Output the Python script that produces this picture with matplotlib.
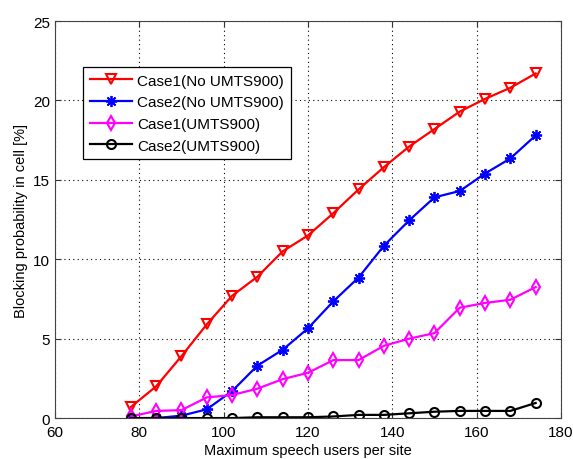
import matplotlib
matplotlib.use("Agg")
import matplotlib.pyplot as plt

# 每站最大语音用户数
users = [78, 84, 90, 96, 102, 108, 114, 120, 126, 132, 138, 144, 150, 156, 162, 168, 174]

case1_no900 = [0.7, 2.0, 3.9, 5.9, 7.7, 8.9, 10.5, 11.5, 12.9, 14.4, 15.8, 17.1, 18.2, 19.3, 20.1, 20.8, 21.7]
case2_no900 = [0.0, 0.0, 0.15, 0.55, 1.7, 3.3, 4.3, 5.65, 7.35, 8.85, 10.85, 12.45, 13.9, 14.3, 15.4, 16.35, 17.8]
case1_900 = [0.1, 0.45, 0.5, 1.3, 1.45, 1.85, 2.45, 2.85, 3.65, 3.65, 4.55, 5.0, 5.35, 6.95, 7.25, 7.45, 8.25]
case2_900 = [0.0, 0.0, 0.0, 0.0, 0.0, 0.05, 0.05, 0.05, 0.1, 0.2, 0.2, 0.3, 0.4, 0.45, 0.45, 0.45, 0.95]

labels = ["Case1(No UMTS900)", "Case2(No UMTS900)", "Case1(UMTS900)", "Case2(UMTS900)"]

plt.rcParams["font.family"] = ["Liberation Sans", "DejaVu Sans"]

fig = plt.figure(figsize=(5.73, 4.6), dpi=100)
ax = fig.add_axes([0.096, 0.089, 0.883, 0.863])

ax.plot(users, case1_no900, color="red", lw=1.6, marker="v", ms=7.5,
        mfc="none", mew=1.5, label=labels[0])
# 8 辐条星号，类似 MATLAB 的 '*'
ax.plot(users, case2_no900, color="blue", lw=1.6, marker=(8, 2, 0), ms=8,
        mew=1.3, label=labels[1])
ax.plot(users, case1_900, color="magenta", lw=1.6, marker="d", ms=7,
        mfc="none", mew=1.5, label=labels[2])
ax.plot(users, case2_900, color="black", lw=1.6, marker="o", ms=6.5,
        mfc="none", mew=1.5, label=labels[3])

ax.set_xlim(60, 180)
ax.set_ylim(0, 25)
ax.set_xticks(range(60, 181, 20))
ax.set_yticks(range(0, 26, 5))
ax.grid(True, color="black", linestyle=(0, (1, 3)), linewidth=0.8)
ax.tick_params(direction="in", top=True, right=True, labelsize=11, length=4,
               colors="#333333")
ax.tick_params(axis="x", pad=5)
for tl in ax.get_xticklabels() + ax.get_yticklabels():
    tl.set_color("black")
for s in ax.spines.values():
    s.set_color("#444444")

ax.set_xlabel("Maximum speech users per site", fontsize=10.5, labelpad=3)
ax.set_ylabel("Blocking probability in cell [%]", fontsize=10.5, labelpad=4)

leg = ax.legend(loc="upper left", bbox_to_anchor=(0.055, 0.885), fontsize=11,
                fancybox=False, framealpha=1, edgecolor="black",
                handlelength=2.8, borderpad=0.45, labelspacing=0.5,
                handletextpad=0.3, borderaxespad=0)
leg.get_frame().set_linewidth(0.9)

fig.savefig("out.png", dpi=100)
